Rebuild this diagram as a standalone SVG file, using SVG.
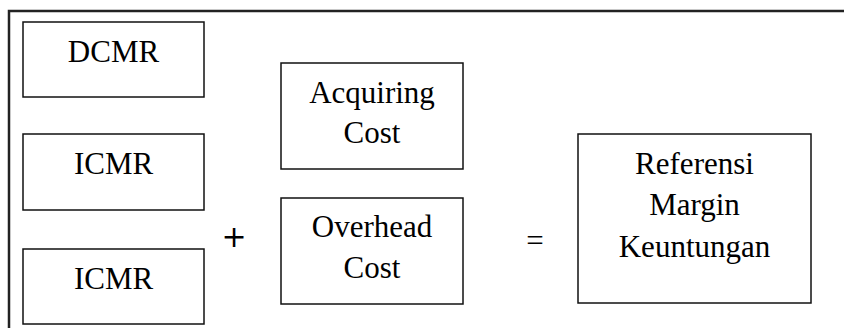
<svg xmlns="http://www.w3.org/2000/svg" width="844" height="328" viewBox="0 0 844 328">
<style>
.box{fill:#fff;stroke:#111;stroke-width:1.5}
.t{font-family:"Liberation Serif","Times New Roman",serif;font-size:31px;fill:#000;text-anchor:middle}
.op{font-family:"DejaVu Sans",sans-serif;font-size:30px;fill:#000;text-anchor:middle}
</style>
<rect x="9" y="11" width="850" height="330" fill="#fff" stroke="#222" stroke-width="2.5"/>
<g id="dcmr"><rect class="box" x="23" y="22" width="181" height="75"/><text class="t" x="113.5" y="62">DCMR</text></g>
<g id="icmr1"><rect class="box" x="23" y="134" width="181" height="76"/><text class="t" x="113.5" y="174">ICMR</text></g>
<g id="icmr2"><rect class="box" x="23" y="249" width="181" height="75"/><text class="t" x="113.5" y="289">ICMR</text></g>
<g id="acquiring"><rect class="box" x="281" y="63" width="182" height="106"/><text class="t" x="372" y="103">Acquiring</text><text class="t" x="372" y="143">Cost</text></g>
<g id="overhead"><rect class="box" x="281" y="198" width="182" height="106"/><text class="t" x="372" y="237">Overhead</text><text class="t" x="372" y="278">Cost</text></g>
<g id="referensi"><rect class="box" x="578" y="134" width="233" height="169"/><text class="t" x="694.5" y="174">Referensi</text><text class="t" x="694.5" y="215">Margin</text><text class="t" x="694.5" y="257">Keuntungan</text></g>
<g id="connectors">
<text class="op" x="234" y="247">+</text>
<text class="t" x="535" y="251" font-size="30">=</text>
</g>
</svg>
